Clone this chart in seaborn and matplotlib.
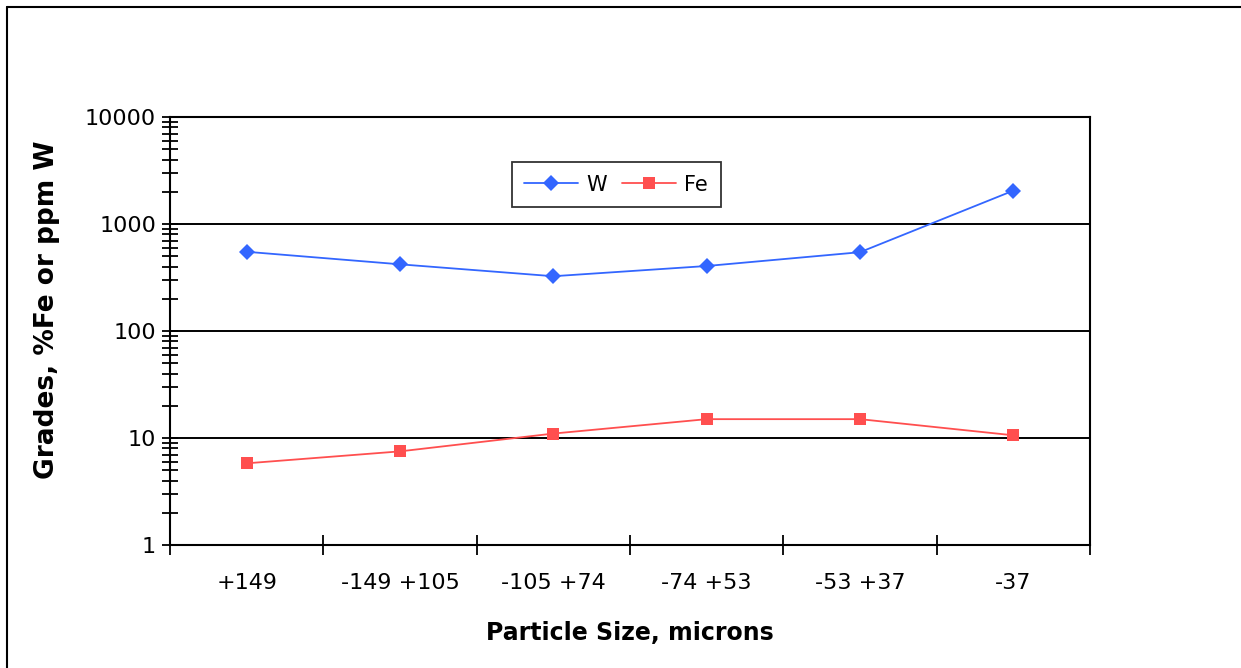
import matplotlib
matplotlib.use("Agg")
import matplotlib.pyplot as plt
import matplotlib.ticker as mticker
import pandas as pd
import seaborn as sns

sizes = ["+149", "-149 +105", "-105 +74", "-74 +53", "-53 +37", "-37"]
w_ppm = [550, 420, 325, 405, 545, 2050]
fe_pct = [5.8, 7.5, 11.0, 15.0, 15.0, 10.6]

df = pd.DataFrame({
    "pos": list(range(len(sizes))) * 2,
    "value": w_ppm + fe_pct,
    "series": ["W"] * len(sizes) + ["Fe"] * len(sizes),
})

sns.set_theme(style="white")
plt.rcParams["font.family"] = ["DejaVu Sans"]
plt.rcParams["text.color"] = "black"
plt.rcParams["axes.labelcolor"] = "black"
plt.rcParams["xtick.color"] = "black"
plt.rcParams["ytick.color"] = "black"

fig = plt.figure(figsize=(12.41, 6.68), dpi=100)
ax = fig.add_axes([170 / 1241, 123 / 668, 920 / 1241, 428 / 668])

palette = {"W": "#3366FF", "Fe": "#FF4F4F"}
sns.lineplot(data=df, x="pos", y="value", hue="series", style="series",
             palette=palette, markers={"W": "D", "Fe": "s"}, dashes=False,
             markersize=8, linewidth=1.3, markeredgewidth=0, ax=ax)

ax.set_yscale("log")
ax.set_ylim(1, 10000)
ax.set_xlim(-0.5, len(sizes) - 0.5)

# horizontal gridlines at decades
for v in [10, 100, 1000]:
    ax.axhline(v, color="black", lw=1.4, zorder=0)

ax.yaxis.set_major_locator(mticker.FixedLocator([1, 10, 100, 1000, 10000]))
ax.yaxis.set_major_formatter(mticker.FuncFormatter(lambda v, p: f"{int(v)}"))
ax.yaxis.set_minor_locator(mticker.LogLocator(base=10, subs=range(2, 10)))
ax.yaxis.set_minor_formatter(mticker.NullFormatter())
ax.tick_params(axis="y", which="both", direction="inout", length=12, width=1.3,
               left=True, labelsize=16, pad=4)

ax.set_xticks(range(len(sizes)))
ax.set_xticklabels(sizes)
ax.set_xticks([i - 0.5 for i in range(len(sizes) + 1)], minor=True)
ax.tick_params(axis="x", which="major", length=0, labelsize=16, pad=20)
ax.tick_params(axis="x", which="minor", direction="inout", length=14, width=1.3,
               bottom=True)

for s in ax.spines.values():
    s.set_visible(True)
    s.set_color("black")
    s.set_linewidth(1.5)

ax.set_xlabel("Particle Size, microns", fontsize=17, fontweight="bold", labelpad=20)
ax.set_ylabel("Grades, %Fe or ppm W", fontsize=19, fontweight="bold")
ax.yaxis.set_label_coords(-0.12, 0.549)

handles, labels = ax.get_legend_handles_labels()
leg = ax.legend(handles, labels, loc="center", bbox_to_anchor=(0.485, 0.842),
                ncol=2, fontsize=15, frameon=True, fancybox=False,
                edgecolor="black", handlelength=2.6, columnspacing=0.7,
                handletextpad=0.4, borderpad=0.6, borderaxespad=0)
leg.get_frame().set_linewidth(1.3)

# outer chart frame (only top and left edges visible in the reference)
fig.add_artist(plt.Line2D([7 / 1241, 7 / 1241], [0, 1 - 7 / 668], color="black",
                          lw=1.5, transform=fig.transFigure))
fig.add_artist(plt.Line2D([7 / 1241, 1], [1 - 7 / 668, 1 - 7 / 668], color="black",
                          lw=1.5, transform=fig.transFigure))

fig.savefig("out.png", dpi=100)
